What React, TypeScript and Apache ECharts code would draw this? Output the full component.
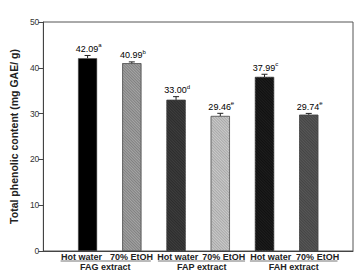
import React, { useEffect, useRef } from "react";
import * as echarts from "echarts";

// ---- data ----
const categories = ["Hot water", "70% EtOH", "Hot water", "70% EtOH", "Hot water", "70% EtOH"];
const groups = ["FAG extract", "FAP extract", "FAH extract"];
const values = [42.09, 40.99, 33.0, 29.46, 37.99, 29.74];
const errors = [0.6, 0.3, 0.7, 0.6, 0.6, 0.3];
const letters = ["a", "b", "d", "e", "c", "e"];
const yTicks = [0, 10, 20, 30, 40, 50];

// ---- layout / style (not data) ----
const barPositions = [1, 2, 3, 4, 5, 6];
const labelPositions = [0.86, 1.99, 3.04, 4.08, 5.14, 6.2];
const groupPositions = [1.4, 3.58, 5.66];
const underlineSpans: [number, number][] = [
  [0.39, 2.43],
  [2.59, 4.56],
  [4.67, 6.65],
];
const barStyles = [
  { color: "#000000", decal: null as string | null },
  { color: "#a6a6a6", decal: "#808080" },
  { color: "#3e3e3e", decal: "#2c2c2c" },
  { color: "#cbcbcb", decal: "#a8a8a8" },
  { color: "#1e1e1e", decal: "#101010" },
  { color: "#585858", decal: "#444444" },
];
const FONT = "'Liberation Sans', Arial, sans-serif";

export default function App() {
  const ref = useRef<HTMLDivElement>(null);
  useEffect(() => {
    document.body.style.margin = "0";
    if (!ref.current) return;
    const chart = echarts.init(ref.current, null, { renderer: "svg" });
    const barData = values.map((v, i) => {
      const s = barStyles[i];
      const itemStyle: any = { color: s.color, borderColor: "#444", borderWidth: 0.5 };
      if (s.decal) {
        itemStyle.decal = {
          symbol: "rect",
          symbolSize: 1,
          dashArrayX: [1, 0],
          dashArrayY: [1, 1],
          rotation: Math.PI / 4,
          color: s.decal,
        };
      }
      return { value: [barPositions[i], v], itemStyle };
    });
    const errData = values.map((v, i) => [barPositions[i], v, errors[i]]);
    const rich = {
      v: { fontSize: 9, fontFamily: FONT, color: "#333", lineHeight: 11, verticalAlign: "bottom" },
      s: { fontSize: 6, fontFamily: FONT, color: "#333", lineHeight: 11, verticalAlign: "top" },
    };
    const option: any = {
      animation: false,
      textStyle: { fontFamily: FONT },
      grid: { left: 34, right: 2, top: 22, bottom: 23, show: true, borderColor: "#555", borderWidth: 1 },
      xAxis: [
        {
          type: "value",
          min: 0,
          max: 7,
          axisLine: { show: true, lineStyle: { color: "#444" } },
          axisTick: { show: false },
          splitLine: { show: false },
          axisLabel: {
            customValues: labelPositions,
            formatter: (v: number) => {
              const i = labelPositions.findIndex((p) => Math.abs(p - v) < 1e-6);
              return i >= 0 ? categories[i] : "";
            },
            fontSize: 9,
            fontWeight: "bold",
            color: "#222",
            margin: 1,
            fontFamily: FONT,
          },
        },
        {
          type: "value",
          min: 0,
          max: 7,
          position: "bottom",
          offset: 10,
          axisLine: { show: false },
          axisTick: { show: false },
          splitLine: { show: false },
          axisLabel: {
            customValues: groupPositions,
            formatter: (v: number) => {
              const i = groupPositions.findIndex((p) => Math.abs(p - v) < 1e-6);
              return i >= 0 ? groups[i] : "";
            },
            fontSize: 9,
            fontWeight: "bold",
            color: "#222",
            margin: 1,
            fontFamily: FONT,
          },
        },
      ],
      yAxis: {
        type: "value",
        min: yTicks[0],
        max: yTicks[yTicks.length - 1],
        interval: 10,
        name: "Total phenolic content (mg GAE/ g)",
        nameLocation: "middle",
        nameRotate: 90,
        nameGap: 22,
        nameTextStyle: { fontSize: 10.5, fontWeight: "bold", color: "#222", fontFamily: FONT },
        axisLine: { show: true, lineStyle: { color: "#444" } },
        axisTick: { show: true, length: 5, lineStyle: { color: "#444" } },
        splitLine: { show: false },
        axisLabel: { fontSize: 8.5, color: "#333", margin: 4, fontFamily: FONT },
      },
      series: [
        {
          type: "bar",
          xAxisIndex: 0,
          barWidth: 19,
          data: barData,
        },
        {
          type: "custom",
          xAxisIndex: 0,
          z: 5,
          data: errData,
          renderItem: (params: any, api: any) => {
            const x = api.value(0);
            const v = api.value(1);
            const e = api.value(2);
            const top = api.coord([x, v + e]);
            const bot = api.coord([x, v]);
            const cw = 3;
            return {
              type: "group",
              children: [
                { type: "line", shape: { x1: top[0], y1: top[1], x2: bot[0], y2: bot[1] }, style: { stroke: "#222", lineWidth: 1 } },
                { type: "line", shape: { x1: top[0] - cw, y1: top[1], x2: top[0] + cw, y2: top[1] }, style: { stroke: "#222", lineWidth: 1 } },
                {
                  type: "text",
                  x: top[0] + 1,
                  y: top[1] - 2,
                  style: {
                    text: `{v|${values[params.dataIndex].toFixed(2)}}{s|${letters[params.dataIndex]}}`,
                    rich,
                    align: "center",
                    verticalAlign: "bottom",
                  },
                },
              ],
            };
          },
        },
      ],
    };
    chart.setOption(option);
    const ulY = (chart.convertToPixel({ xAxisIndex: 0, yAxisIndex: 0 } as any, [0, 0]) as number[])[1] + 10;
    const lines = underlineSpans.map(([a, b]) => {
      const p1 = chart.convertToPixel({ xAxisIndex: 0, yAxisIndex: 0 } as any, [a, 0]) as number[];
      const p2 = chart.convertToPixel({ xAxisIndex: 0, yAxisIndex: 0 } as any, [b, 0]) as number[];
      return {
        type: "line",
        shape: { x1: p1[0], y1: ulY, x2: p2[0], y2: ulY },
        style: { stroke: "#777", lineWidth: 1 },
      };
    });
    chart.setOption({ graphic: lines });
    return () => chart.dispose();
  }, []);
  return <div ref={ref} style={{ width: 355, height: 274 }} />;
}
